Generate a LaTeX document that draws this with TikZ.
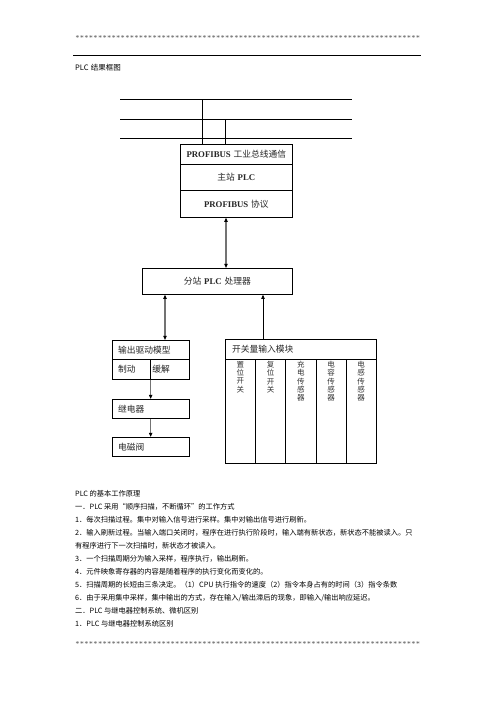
\documentclass[tikz,border=0pt]{standalone}
\usepackage{fontspec}
\setmainfont{Liberation Serif}
\newfontfamily\cjk{Noto Sans CJK SC}
\usetikzlibrary{arrows.meta,positioning,calc}
\definecolor{shaft}{gray}{0.45}
\newcommand{\lat}[1]{{\rmfamily\bfseries #1}}
\newcommand{\gap}{\hspace{0.32em}}
\newcommand{\starrow}{\hbox to 415.2pt{\leaders\hbox to 5.45pt{\hss*\hss}\hfill}}
\tikzset{
  >={Triangle[length=5pt,width=4pt,color=black]},
  bus/.style      = {line width=0.8pt},
  cell/.style     = {rectangle, draw, line width=0.8pt, inner sep=0pt, anchor=north west, text=black!85, font=\cjk\fontsize{10.5}{12}\selectfont},
  vtext/.style    = {inner sep=0pt, align=center, text=black!80, font=\cjk\fontsize{9}{10}\selectfont},
  gline/.style    = {draw=shaft, line width=1.6pt},
  bline/.style    = {draw=black, line width=0.8pt},
  stars/.style    = {anchor=west, inner sep=0pt, text=black!70, font=\fontsize{9}{9}\selectfont},
  textblock/.style= {anchor=north west, align=left, inner sep=0pt, font=\cjk\fontsize{8.7}{15.6}\selectfont}
}

\begin{document}
\begin{tikzpicture}[x=1.2pt, y=-1.2pt]
\useasboundingbox (0,0) rectangle (496,702);

% Page head
\node[stars] (startop) at (75,38) {\starrow};
\coordinate (rulew) at (73,55);
\coordinate (rulee) at (421,55);
\draw[line width=0.9pt] (rulew) -- (rulee);
\node[anchor=west, inner sep=0pt, font=\cjk\fontsize{9}{9}\selectfont] (title) at (75,68) {PLC\gap 结果框图};

% Field bus
\coordinate (b1w) at (120,99);  \coordinate (b1e) at (352,99);
\coordinate (b2w) at (120,119); \coordinate (b2e) at (352,119);
\coordinate (b3w) at (120,138); \coordinate (b3e) at (352,138);
\draw[bus] (b1w) -- (b1e);
\draw[bus] (b2w) -- (b2e);
\draw[bus] (b3w) -- (b3e);
\coordinate (tap1) at (202,99);
\coordinate (tap2) at (225,119);

% Master PLC
\node[cell, minimum width=134.4pt, minimum height=24pt] (plcA) at (180,144) {\lat{PROFIBUS}\gap 工业总线通信};
\node[cell, minimum width=134.4pt, minimum height=31.2pt] (plcB) at (180,164) {主站\gap\lat{PLC}};
\node[cell, minimum width=134.4pt, minimum height=32.4pt] (plcC) at (180,190) {\lat{PROFIBUS}\gap 协议};

\draw[bus] (tap1) -- (plcA.north -| tap1);
\draw[bus] (tap2) -- (plcA.north -| tap2);

% Slave PLC
\node[cell, minimum width=180pt, minimum height=31.2pt] (sub) at (142,268) {分站\gap\lat{PLC}\gap 处理器};

% Output side
\node[cell, minimum width=92.4pt, minimum height=22.8pt, inner xsep=7pt, text width=78.4pt, align=left] (outT) at (112,340) {输出驱动模型};
\node[cell, minimum width=45.6pt, minimum height=24pt, inner xsep=7pt, text width=31.6pt, align=left] (outL) at (112,359) {制动};
\node[cell, minimum width=46.8pt, minimum height=24pt, inner xsep=2.4pt, text width=42pt, align=left] (outR) at (150,359) {缓解};
\node[cell, minimum width=92.4pt, minimum height=22.8pt, inner xsep=7pt, text width=78.4pt, align=left] (relay) at (112,399) {继电器};
\node[cell, minimum width=92.4pt, minimum height=22.8pt, inner xsep=7pt, text width=78.4pt, align=left] (valve) at (112,437) {电磁阀};

% Input side
\node[cell, minimum width=181.2pt, minimum height=24pt, inner xsep=8pt, text width=165.2pt, align=left] (inT) at (225,339) {开关量输入模块};
\foreach \t [count=\i] in {{置\\位\\开\\关}, {复\\位\\开\\关}, {充\\电\\传\\感\\器}, {电\\容\\传\\感\\器}, {电\\感\\传\\感\\器}}{
  \node[cell, minimum width=36.24pt, minimum height=124.8pt] (col\i) at ({225+(\i-1)*30.2},359) {};
  \node[vtext, below=2.5pt of col\i.north] (colt\i) {\t};
}

% Links
\coordinate (ax) at (226,0);
\coordinate (lx) at (165,0);
\coordinate (rx) at (263,0);
\draw[gline, <->] (plcC.south -| ax) -- (sub.north -| ax);
\draw[gline, <->] (sub.south -| lx) -- (outT.north -| lx);
\draw[bline, ->] (inT.north -| rx) -- (sub.south -| rx);
\draw[gline, ->] (outL.south east) -- (relay.north -| outL.south east);
\draw[gline, ->] (relay.south -| outL.south east) -- (valve.north -| outL.south east);

% Notes under the figure
\node[textblock] (notes) at (75,490.5) {PLC 的基本工作原理\\
一．PLC 采用“顺序扫描，不断循环”的工作方式\\
1．每次扫描过程。集中对输入信号进行采样。集中对输出信号进行刷新。\\
2．输入刷新过程。当输入端口关闭时，程序在进行执行阶段时，输入端有新状态，新状态不能被读入。只\\
有程序进行下一次扫描时，新状态才被读入。\\
3．一个扫描周期分为输入采样，程序执行，输出刷新。\\
4．元件映象寄存器的内容是随着程序的执行变化而变化的。\\
5．扫描周期的长短由三条决定。（1）CPU 执行指令的速度（2）指令本身占有的时间（3）指令条数\\
6．由于采用集中采样，集中输出的方式，存在输入/输出滞后的现象，即输入/输出响应延迟。\\
二．PLC 与继电器控制系统、微机区别\\
1．PLC 与继电器控制系统区别};

\node[stars] (starbot) at (75,644) {\starrow};
\end{tikzpicture}
\end{document}
